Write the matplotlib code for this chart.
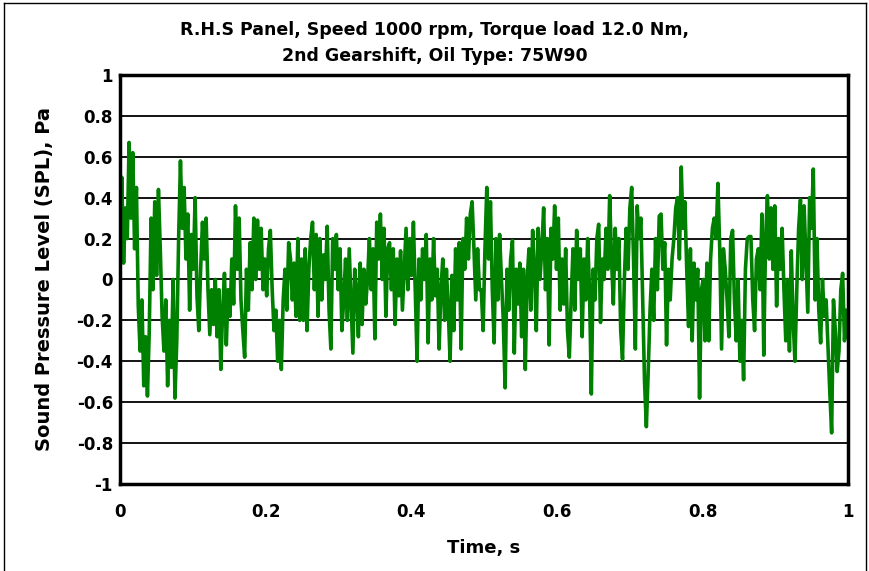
import numpy as np
import matplotlib
matplotlib.use('Agg')
import matplotlib.pyplot as plt
from matplotlib.lines import Line2D

# SPL trace, one list per ~0.124 s stretch
seg1 = [0.05, 0.50, 0.08, 0.35, 0.20, 0.67, 0.30, 0.62, 0.15, 0.45,
        -0.13, -0.35, -0.10, -0.52, -0.28, -0.57, -0.25, 0.30, -0.05, 0.38,
        0.02, 0.44, 0.15, -0.18, -0.35, -0.10, -0.52, -0.20, -0.43, 0.00,
        -0.58, -0.30, 0.20, 0.58, 0.25, 0.45, 0.10, 0.32, -0.15, 0.22,
        0.05, 0.40, -0.08, -0.25, 0.05, 0.28, 0.10, 0.30, -0.05, -0.27]
seg2 = [-0.05, -0.22, 0.00, -0.28, -0.05, -0.44, -0.15, 0.03, -0.32, -0.05,
        -0.18, 0.10, -0.12, 0.36, 0.05, 0.30, -0.10, -0.25, -0.38, 0.05,
        -0.15, 0.18, -0.05, 0.30, 0.00, 0.29, 0.05, 0.25, -0.05, 0.10,
        -0.08, 0.15, 0.24, -0.05, -0.25, -0.15, -0.40, -0.20, -0.44, -0.10,
        0.05, -0.15, 0.18, 0.10, -0.10, 0.08, -0.18, 0.20, -0.20]
seg3 = [0.10, -0.20, 0.15, -0.25, 0.05, 0.20, 0.28, -0.05, 0.22, -0.18,
        0.20, -0.10, 0.12, 0.00, 0.26, -0.15, -0.34, 0.20, 0.05, 0.22,
        -0.05, 0.15, -0.25, -0.10, 0.10, -0.20, 0.15, -0.10, -0.36, 0.05,
        -0.05, -0.28, 0.08, -0.22, 0.05, -0.12, 0.00, 0.20, -0.05, 0.15,
        -0.29, 0.28, 0.10, 0.32, 0.00, 0.25, -0.18, 0.15, 0.18]
seg4 = [-0.05, 0.15, -0.22, 0.10, -0.08, 0.14, -0.15, 0.05, 0.25, -0.05,
        0.20, 0.02, 0.28, -0.05, -0.40, 0.10, -0.10, 0.15, 0.00, 0.22,
        -0.31, 0.10, -0.10, 0.20, -0.08, 0.05, -0.34, -0.05, 0.10, -0.20,
        0.05, -0.15, -0.40, 0.02, -0.25, 0.15, -0.10, 0.18, -0.34, 0.20,
        0.05, 0.30, 0.10, 0.32, 0.38, 0.15, -0.10, 0.15, -0.05]
seg5 = [-0.05, -0.25, 0.15, 0.45, 0.10, 0.38, -0.05, -0.31, 0.20, -0.10,
        0.22, 0.00, -0.20, -0.53, 0.05, -0.15, 0.10, 0.19, -0.36, 0.05,
        -0.12, 0.08, -0.28, 0.05, -0.44, 0.00, 0.15, -0.15, 0.24, 0.05,
        -0.25, 0.25, 0.00, 0.15, 0.35, -0.05, 0.20, -0.32, 0.25, 0.10,
        0.36, 0.05, 0.30, -0.15, 0.10, -0.12, 0.15, -0.25, -0.38]
seg6 = [-0.10, 0.15, -0.15, 0.24, 0.00, 0.15, -0.28, 0.10, -0.10, 0.20,
        -0.05, -0.56, 0.05, -0.10, 0.20, 0.27, -0.21, 0.10, 0.00, 0.25,
        0.05, 0.41, 0.10, -0.12, 0.25, 0.05, 0.20, -0.25, -0.39, 0.00,
        0.25, 0.05, 0.35, 0.45, 0.10, -0.34, 0.36, 0.20, 0.30, -0.10,
        -0.50, -0.72, -0.45, -0.15, 0.05, -0.20, 0.20, -0.05, 0.31]
seg7 = [0.32, 0.05, 0.18, -0.32, 0.05, -0.10, 0.10, 0.20, 0.35, 0.40,
        0.10, 0.55, 0.25, 0.38, 0.05, -0.23, 0.15, -0.30, 0.08, -0.10,
        0.05, -0.58, -0.05, 0.00, -0.30, 0.08, -0.30, 0.10, 0.25, 0.30,
        0.20, 0.47, 0.15, -0.34, 0.15, 0.05, -0.10, -0.28, 0.20, 0.24,
        -0.10, -0.30, 0.00, -0.40, -0.20, -0.49, 0.05, 0.20, 0.21]
seg8 = [0.21, -0.10, -0.25, 0.10, 0.15, -0.05, 0.32, -0.37, 0.20, 0.41,
        0.10, 0.35, 0.05, 0.36, -0.13, 0.20, 0.05, 0.25, -0.05, -0.30,
        0.00, -0.35, 0.14, -0.20, -0.40, -0.05, 0.25, 0.39, 0.00, 0.36,
        0.10, -0.16, 0.40, 0.25, 0.54, -0.10, 0.20, -0.15, -0.31, 0.00,
        -0.18, -0.10, -0.33, -0.55, -0.75, -0.10, -0.25, -0.45, -0.35, -0.05,
        0.03, -0.30, -0.15, -0.28]

spl = seg1 + seg2 + seg3 + seg4 + seg5 + seg6 + seg7 + seg8
time = np.linspace(0, 1, len(spl))  # uniform sampling over 1 s

title = 'R.H.S Panel, Speed 1000 rpm, Torque load 12.0 Nm,\n2nd Gearshift, Oil Type: 75W90'
yticks = [-1, -0.8, -0.6, -0.4, -0.2, 0, 0.2, 0.4, 0.6, 0.8, 1]
ytick_labels = ['-1', '-0.8', '-0.6', '-0.4', '-0.2', '0', '0.2', '0.4', '0.6', '0.8', '1']
xticks = [0, 0.2, 0.4, 0.6, 0.8, 1]
xtick_labels = ['0', '0.2', '0.4', '0.6', '0.8', '1']

plt.rcParams['font.family'] = ['DejaVu Sans']
plt.rcParams['font.weight'] = 'bold'

fig = plt.figure(figsize=(8.69, 5.71), dpi=100)
ax = fig.add_axes([0.138, 0.1524, 0.838, 0.7163])

# horizontal grid
for yv in yticks:
    ax.axhline(yv, color='black', lw=1.3, zorder=1)

ax.plot(time, spl, color='#008000', lw=2.6, zorder=2)

ax.set_xlim(0, 1)
ax.set_ylim(-1, 1)
ax.set_xticks(xticks)
ax.set_xticklabels(xtick_labels)
ax.set_yticks(yticks)
ax.set_yticklabels(ytick_labels)
ax.tick_params(length=0, labelsize=12)
ax.tick_params(axis='x', pad=14)
ax.tick_params(axis='y', pad=5)
for sp in ax.spines.values():
    sp.set_linewidth(2.5)

ax.set_xlabel('Time, s', fontsize=13, fontweight='bold', labelpad=13)
ax.set_ylabel('Sound Pressure Level (SPL), Pa', fontsize=14, fontweight='bold', labelpad=16)
fig.text(0.5, 0.925, title, ha='center', va='center', fontsize=12.5,
         fontweight='bold', linespacing=1.55)

# outer chart border (bottom edge runs off the image)
for xs, ys in [([0.005, 0.005], [0, 0.995]), ([0.005, 0.997], [0.995, 0.995]),
               ([0.997, 0.997], [0, 0.995])]:
    fig.add_artist(Line2D(xs, ys, color='black', lw=1.0, transform=fig.transFigure))

fig.savefig('out.png', dpi=100)
